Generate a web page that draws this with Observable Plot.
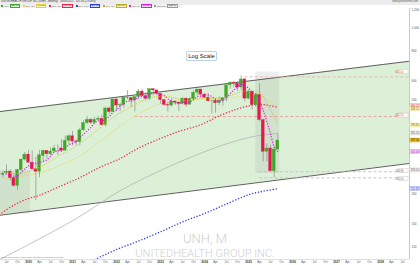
<!DOCTYPE html>
<html><head><meta charset="utf-8">
<script src="https://cdn.jsdelivr.net/npm/d3@7"></script>
<script src="https://cdn.jsdelivr.net/npm/@observablehq/plot@0.6"></script>
<style>
html,body{margin:0;padding:0;background:#fff;}
#wrap{position:relative;width:420px;height:265px;overflow:hidden;font-family:"Liberation Sans",Arial,sans-serif;background:#fff;}
#chart{position:absolute;left:0;top:0;}
#titlebar{position:absolute;left:0;top:0;width:420px;height:4.6px;background:#ececec;font-size:2.7px;line-height:4.6px;color:#333;white-space:nowrap;}
#titlebar .l{position:absolute;left:1px;top:0;}
#titlebar .r{position:absolute;right:2px;top:0;color:#555;}
#legend{position:absolute;left:0;top:4.6px;height:3.2px;background:#f3f3f3;display:flex;align-items:center;font-size:2.4px;line-height:3px;color:#666;white-space:nowrap;padding-right:3px;}
.it{display:flex;align-items:center;margin-right:2px;}
.sq{width:2px;height:2px;margin:0 0.8px 0 0.8px;}
.vb{padding:0 0.6px;margin-left:0.8px;border:0.3px solid;line-height:2.4px;}
#logscale{position:absolute;left:186px;top:51px;width:29px;height:8px;border:1px solid #bfd0ea;background:#fff;font-size:6px;line-height:8px;text-align:center;color:#222;border-radius:1px;}
#foot{position:absolute;left:1px;top:256.2px;font-size:2.3px;color:#777;white-space:nowrap;}
</style></head>
<body>
<div id="wrap">
  <div id="chart"></div>
  <div id="titlebar"><span class="l">UNITEDHEALTH GROUP INC (UNH) - Monthly - 19/09/2025 - 337.06 (+9.08%)</span><span class="r">www.prorealtime.com</span></div>
  <div id="legend"></div>
  <div id="logscale">Log Scale</div>
  <div id="foot">ProRealTime.com - Daily data, adjusted for splits &amp; dividends</div>
</div>
<script>
// ---------- DATA ----------
const firstMonth = "2019-06";
const open  = [242,245,249,234,217,253,280,
  294,272,255,249,290,305,295,303,312,312,305,336,
  351,334,332,372,399,412,400,412,416,391,460,444,
  502,473,476,510,509,497,514,542,519,505,555,548,
  530,499,476,473,492,487,481,506,477,504,536,553,
  526,511,494,495,484,495,509,576,590,585,564,610,
  506,542,475,524,411,302,312,250,309];
const high  = [250,266,254,244,254,282,300,
  306,305,287,306,307,306,314,322,323,340,352,356,
  368,340,380,409,425,418,422,426,431,466,466,503,
  504,486,515,547,509,514,553,553,536,556,558,555,
  531,502,488,506,494,493,511,510,512,546,554,554,
  533,531,500,507,514,510,577,596,600,597,631,613,
  549,542,529,586,414,326,322,315,360];
const low   = [234,243,228,214,208,250,276,
  268,254,188,235,273,281,290,300,291,300,305,323,
  320,321,320,369,393,393,397,408,389,385,431,443,
  446,446,462,502,463,445,500,516,494,497,520,520,
  480,470,445,467,475,446,476,466,476,496,518,509,
  506,489,436,439,473,470,491,555,562,545,548,490,
  500,453,466,405,274,275,249,235,302];
const close = [244,249,234,217,253,280,294,
  272,255,249,292,305,295,303,312,312,305,336,351,
  334,332,372,399,412,400,412,416,391,460,444,502,
  473,476,510,509,497,514,542,519,505,555,548,530,
  499,476,473,492,487,481,506,477,504,536,553,526,
  511,494,495,484,495,509,576,590,585,564,610,506,
  542,475,524,411,302,312,250,309,337];
// 5-month average (magenta dotted), one value per candle
const sma5 = [243,243,240,237,239,247,256,
  263,271,270,272,275,279,289,301,305,305,314,323,
  328,332,345,358,370,383,399,408,406,416,425,443,
  454,471,481,494,493,501,514,516,515,527,534,531,
  527,522,505,494,485,482,488,489,491,501,515,519,
  526,524,516,502,496,495,512,531,551,565,585,571,
  561,539,531,492,451,405,360,317,302];
const sma20Months = ["2019-06","2019-11","2020-04","2020-09","2021-03","2021-09","2022-03","2022-09","2023-03","2023-09","2024-03","2024-09","2025-01","2025-04","2025-07","2025-09"];
const sma20Values = [232,238,246,262,290,339,397,454,492,505,508,512,527,524,488,468];
const sma10Months = ["2019-06","2019-11","2020-04","2020-09","2021-02","2021-07","2021-12","2022-05","2022-10","2023-03","2023-08","2024-01","2024-06","2024-11","2025-02","2025-04","2025-06","2025-08","2025-09"];
const sma10Values = [248,245,260,289,319,365,421,468,510,516,497,507,511,540,545,538,483,424,397];
const sma50Months = ["2019-05","2019-09","2020-01","2020-04","2020-09","2021-03","2021-08","2022-02","2022-07","2023-01","2023-06","2023-12","2024-05","2024-10","2025-02","2025-05","2025-07","2025-09"];
const sma50Values = [164,180,192,198,214,235,258,283,313,344,368,393,428,458,475,478,472,465];
const sma100Months = ["2021-01","2021-07","2022-01","2022-07","2023-01","2023-07","2024-01","2024-07","2025-01","2025-05","2025-09"];
const sma100Values = [96,106,117,127,139,153,166,182,199,206,211];
const grayMonths = ["2019-05","2020-02","2021-02","2022-02","2023-01","2023-12","2024-08","2025-03","2025-09"];
const grayValues = [106,125,158,207,252,298,330,352,361];
const channelMonths = ["2019-05","2028-09"];
const channelUpper = [446,728];
const channelLower = [163,270];
const zoneStart = ["2025-03","2019-05"];
const zoneEnd   = ["2025-09","2020-01"];
const zoneLow   = [245,165];
const zoneHigh  = [655,252];
const levelValues = [625,425.5,248.9,234.6];
const levelStart  = ["2024-12","2022-06","2025-04","2025-04"];
const levelLabels = ["625.00","425.50","248.88","234.60"];
const tagValues = [472,458,390,361,337,302,252,211];
const tagLabels = ["465.12","468.51","396.80","361.20","337.06","302.00","255.10","211.35"];
const yTicks = [120,150,200,300,400,500,600,800,1000,1200];
const monthNames = {3:"Apr",6:"Jul",9:"Oct"};
const legendNames = ["UNH","SMA(20)","SMA(50)","SMA(100)","SMA(10)","SMA(5)","Bollinger"];
const legendValues = ["337.06","468.51","465.12","211.35","396.80","302.00","255.10"];

// ---------- STYLE ----------
const GREEN = "#41a62a", RED = "#e3194b";
const tagStyle = [
  {fg:"#c81d3b", bg:"#fde4e9", bd:"#ee8fa0"},
  {fg:"#7d7000", bg:"#fbf6cf", bd:"#e1d253"},
  {fg:"#7d7000", bg:"#fbf6cf", bd:"#e1d253"},
  {fg:"#666666", bg:"#eeeeee", bd:"#bdbdbd"},
  {fg:"#1a1a1a", bg:"#f0c419", bd:"#d4a800"},
  {fg:"#a40fb5", bg:"#f8dcfb", bd:"#db6ae6"},
  {fg:"#666666", bg:"#eeeeee", bd:"#bdbdbd"},
  {fg:"#2433c8", bg:"#e2e5ff", bd:"#7c86ef"}
];
const levelColors = ["#e2b3b3","#ef9a9a","#bfbfbf","#bfbfbf"];
const levelTagLift = [5,1,1,-1];
const legendColors = ["#41a62a","#e2d23c","#e8274b","#2b3fe6","#b9b02a","#d81ee0","#9a9a9a"];
const legendBg = ["#e2f3dc","#fbf6cf","#fde4e9","#e2e5ff","#fbf6cf","#f8dcfb","#eeeeee"];

// ---------- BUILD ----------
const monthIndex = s => { const [y, mo] = s.split("-").map(Number); return (y - 2020) * 12 + (mo - 1); };
const xMin = -7.64, xMax = 103.9, yMin = 106.2, yMax = 1214;
const W = 420, H = 265, mT = 8, mB = 6, mL = 0, mR = 11;
const ppm = (W - mL - mR) / (xMax - xMin);
const kPx = Math.log(yMax / yMin) / (H - mT - mB);
const m0 = monthIndex(firstMonth);
const candles = close.map((c, i) => ({m: m0 + i, open: open[i], high: high[i], low: low[i], close: c}));
const sma5Pts = sma5.map((v, i) => ({m: m0 + i, v}));
const series = (months, vals) => months.map((s, i) => ({m: monthIndex(s), v: vals[i]}));
const channel = channelMonths.map((s, i) => ({m: monthIndex(s), upper: channelUpper[i], lower: channelLower[i]}));
const zones = zoneStart.map((s, i) => ({x1: monthIndex(s), x2: monthIndex(zoneEnd[i]) + 0.5, lo: zoneLow[i], hi: zoneHigh[i]}));
const levels = levelValues.map((v, i) => ({v, start: monthIndex(levelStart[i]), color: levelColors[i], label: levelLabels[i], lift: levelTagLift[i]}));
const tags = tagValues.map((v, i) => ({v, label: tagLabels[i], ...tagStyle[i]}));
const xTicks = d3.range(-6, 103, 3);
const yearTicks = xTicks.filter(t => t % 12 === 0);
const monTicks = xTicks.filter(t => t % 12 !== 0);
const hh = Math.exp(2 * kPx);
// axis labels hidden under a value tag (as on the original)
const shownTicks = yTicks.filter(t => tags.every(g => Math.abs(Math.log(t / g.v)) / kPx > 4.5));
const lineOpts = {x: "m", y: "v", curve: "catmull-rom", clip: true, strokeLinecap: "butt"};

const chart = Plot.plot({
  width: W, height: H, marginTop: mT, marginBottom: mB, marginLeft: mL, marginRight: mR,
  x: {domain: [xMin, xMax], axis: null},
  y: {type: "log", domain: [yMin, yMax], axis: null},
  color: {type: "identity"},
  style: {fontFamily: "'Liberation Sans', Arial, sans-serif", fontSize: "3px", background: "transparent", overflow: "visible"},
  marks: [
    Plot.text(["UNH, M"], {text: d => d, frameAnchor: "bottom", lineAnchor: "bottom", dy: -17, fontSize: 13, fill: "#cfcfcf", fontFamily: "Roboto", fontWeight: 300}),
    Plot.text(["UNITEDHEALTH GROUP INC."], {text: d => d, frameAnchor: "bottom", lineAnchor: "bottom", dy: -2.6, fontSize: 11, fill: "#cfcfcf", fontFamily: "Roboto", fontWeight: 300}),
    Plot.areaY(channel, {x: "m", y1: "lower", y2: "upper", fill: "#dcf0d8", clip: true}),
    Plot.rect(zones, {x1: "x1", x2: "x2", y1: "lo", y2: "hi", fill: "#8c8c8c", fillOpacity: 0.15, clip: true}),
    Plot.line(channel, {x: "m", y: "upper", stroke: "#5f5f5f", strokeWidth: 1, clip: true}),
    Plot.line(channel, {x: "m", y: "lower", stroke: "#5f5f5f", strokeWidth: 1, clip: true}),
    Plot.ruleY(levels, {y: "v", x1: "start", x2: () => xMax, stroke: "color", strokeWidth: 0.9, strokeDasharray: "3,2.2"}),
    Plot.line(series(grayMonths, grayValues), {...lineOpts, stroke: "#b4b4b4", strokeWidth: 0.8}),
    Plot.line(series(sma100Months, sma100Values), {...lineOpts, stroke: "#2b3fe6", strokeWidth: 1.3, strokeDasharray: "1.3,1.7"}),
    Plot.line(series(sma50Months, sma50Values), {...lineOpts, stroke: "#f0304a", strokeWidth: 1.3, strokeDasharray: "1.3,1.7"}),
    Plot.line(series(sma20Months, sma20Values), {...lineOpts, stroke: "#e2d23c", strokeWidth: 0.8, strokeDasharray: "1,1"}),
    Plot.ruleX(candles, {x: "m", y1: "low", y2: "high", stroke: "#8d8d8d", strokeWidth: 0.7}),
    Plot.rect(candles, {x1: d => d.m - 0.4, x2: d => d.m + 0.4, y1: "open", y2: "close",
      fill: d => d.close >= d.open ? GREEN : RED, stroke: d => d.close >= d.open ? GREEN : RED, strokeWidth: 0.3}),
    Plot.line(series(sma10Months, sma10Values), {...lineOpts, stroke: "#cfc22a", strokeWidth: 0.9, strokeDasharray: "1.1,1.3"}),
    Plot.line(sma5Pts, {...lineOpts, stroke: "#dc1ee6", strokeWidth: 1.2, strokeDasharray: "1.2,1.5"}),
    // axes
    Plot.ruleX([xMax], {stroke: "#bbbbbb", strokeWidth: 0.8}),
    Plot.ruleY([yMin], {stroke: "#cccccc", strokeWidth: 0.6}),
    Plot.text(shownTicks, {y: d => d, text: d => d3.format(",")(d), frameAnchor: "right", textAnchor: "start", dx: 2, fontSize: 3, fill: "#555"}),
    Plot.text(monTicks, {x: d => d, text: d => monthNames[((d % 12) + 12) % 12], frameAnchor: "bottom", dy: 3, fontSize: 3, fill: "#666"}),
    Plot.text(yearTicks, {x: d => d, text: d => String(2020 + d / 12), frameAnchor: "bottom", dy: 3, fontSize: 3, fill: "#333", fontWeight: "bold"}),
    // level tags inside chart
    Plot.rect(levels, {x1: () => xMax - 11 / ppm, x2: () => xMax - 1 / ppm,
      y1: d => d.v * Math.exp(d.lift * kPx) / hh, y2: d => d.v * Math.exp(d.lift * kPx) * hh,
      fill: "#ffffff", stroke: "color", strokeWidth: 0.4}),
    Plot.text(levels, {y: d => d.v * Math.exp(d.lift * kPx), text: "label", frameAnchor: "right", dx: -6, fontSize: 2.7, fill: d => d.color === "#bfbfbf" ? "#777" : "#d05050"}),
    // axis tags
    Plot.rect(tags, {x1: () => xMax + 0.4 / ppm, x2: () => xMax + 10.6 / ppm, y1: d => d.v / hh, y2: d => d.v * hh, fill: "bg", stroke: "bd", strokeWidth: 0.4}),
    Plot.text(tags, {y: "v", text: "label", frameAnchor: "right", textAnchor: "start", dx: 1.3, fontSize: 2.7, fill: "fg"})
  ]
});
document.getElementById("chart").appendChild(chart);

// legend row
const lg = document.getElementById("legend");
legendNames.forEach((n, i) => {
  const it = document.createElement("span");
  it.className = "it";
  it.innerHTML = `<span class="sq" style="background:${legendColors[i]}"></span><span>${n}</span><span class="vb" style="background:${legendBg[i]};border-color:${legendColors[i]};color:#333">${legendValues[i]}</span>`;
  lg.appendChild(it);
});
</script>
</body></html>
